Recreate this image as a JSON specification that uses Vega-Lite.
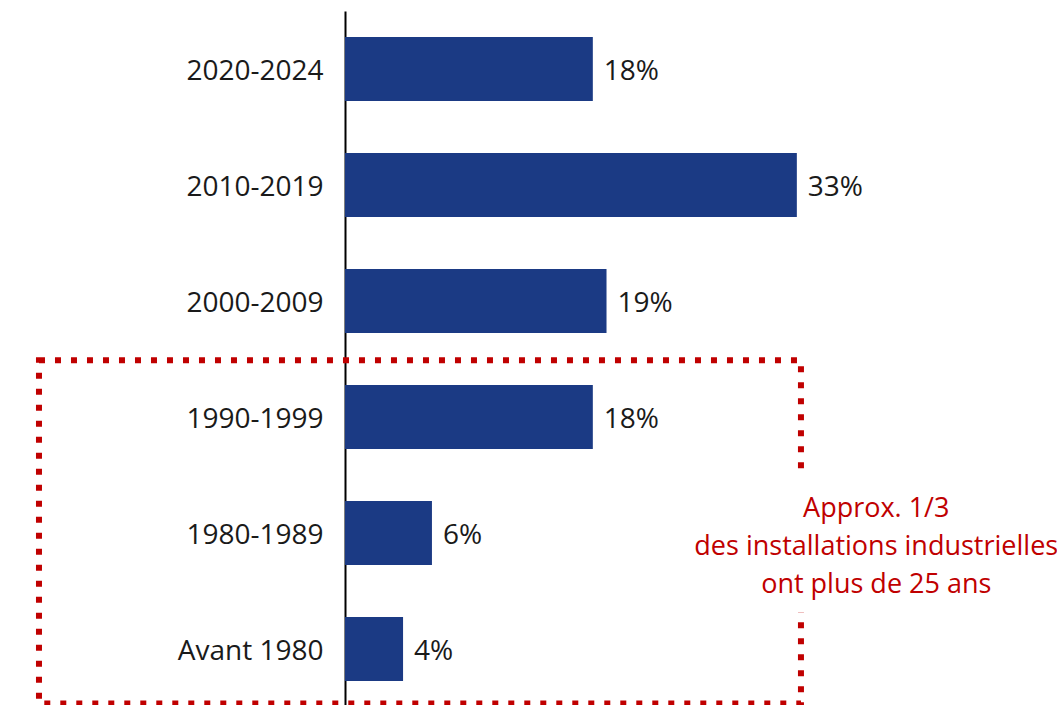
{
  "$schema": "https://vega.github.io/schema/vega-lite/v6.json",
  "autosize": {"type": "none"},
  "padding": {"left": 345, "top": 11, "right": 0, "bottom": 0},
  "width": 712,
  "height": 696,
  "config": {"view": {"stroke": null}, "font": "Open Sans"},
  "layer": [
    {
      "data": {"values": [
        {"periode": "2020-2024", "valeur": 18.1, "label": "18%"},
        {"periode": "2010-2019", "valeur": 33.0, "label": "33%"},
        {"periode": "2000-2009", "valeur": 19.1, "label": "19%"},
        {"periode": "1990-1999", "valeur": 18.1, "label": "18%"},
        {"periode": "1980-1989", "valeur": 6.35, "label": "6%"},
        {"periode": "Avant 1980", "valeur": 4.24, "label": "4%"}
      ]},
      "encoding": {
        "y": {"field": "periode", "type": "nominal", "sort": null,
              "scale": {"paddingInner": 0.448, "paddingOuter": 0.224},
              "axis": {"title": null, "ticks": false, "grid": false, "domainColor": "#000000", "domainWidth": 2,
                       "labelFontSize": 28, "labelFont": "Open Sans", "labelColor": "#1a1a1a", "labelPadding": 22, "labelOffset": 3}},
        "x": {"field": "valeur", "type": "quantitative", "scale": {"domain": [0, 52], "nice": false}, "axis": null}
      },
      "layer": [
        {"mark": {"type": "bar", "color": "#1B3A84"}},
        {"mark": {"type": "text", "align": "left", "baseline": "middle", "dx": 11, "dy": 3, "fontSize": 28, "color": "#1a1a1a", "font": "Open Sans"},
         "encoding": {"text": {"field": "label"}}}
      ]
    },
    {
      "data": {"values": [{"x1": -22.35, "x2": 33.3, "y1": 3.01, "y2": 5.97}]},
      "mark": {"type": "rect", "fill": null, "filled": false, "stroke": "#C00000", "strokeWidth": 6, "strokeDash": [6, 10]},
      "encoding": {
        "x": {"field": "x1", "type": "quantitative", "scale": {"domain": [0, 52], "nice": false}},
        "x2": {"field": "x2"},
        "y": {"field": "y1", "type": "quantitative", "scale": {"domain": [0, 6], "reverse": true, "nice": false, "zero": false}, "axis": null},
        "y2": {"field": "y2"}
      }
    },
    {
      "data": {"values": [{"x1": 25.2, "x2": 52, "y1": 4.01, "y2": 5.18}]},
      "mark": {"type": "rect", "fill": "#ffffff", "stroke": null},
      "encoding": {
        "x": {"field": "x1", "type": "quantitative", "scale": {"domain": [0, 52], "nice": false}},
        "x2": {"field": "x2"},
        "y": {"field": "y1", "type": "quantitative", "scale": {"domain": [0, 6], "reverse": true, "nice": false, "zero": false}, "axis": null},
        "y2": {"field": "y2"}
      }
    },
    {
      "data": {"values": [{"x": 38.8, "y": 4.29, "texte": "Approx. 1/3\ndes installations industrielles\nont plus de 25 ans"}]},
      "mark": {"type": "text", "align": "center", "baseline": "middle", "lineBreak": "\n", "lineHeight": 38, "fontSize": 27, "color": "#C00000", "font": "Open Sans"},
      "encoding": {
        "x": {"field": "x", "type": "quantitative", "scale": {"domain": [0, 52], "nice": false}},
        "y": {"field": "y", "type": "quantitative", "scale": {"domain": [0, 6], "reverse": true, "nice": false, "zero": false}, "axis": null},
        "text": {"field": "texte"}
      }
    }
  ],
  "resolve": {"scale": {"y": "independent"}}
}
